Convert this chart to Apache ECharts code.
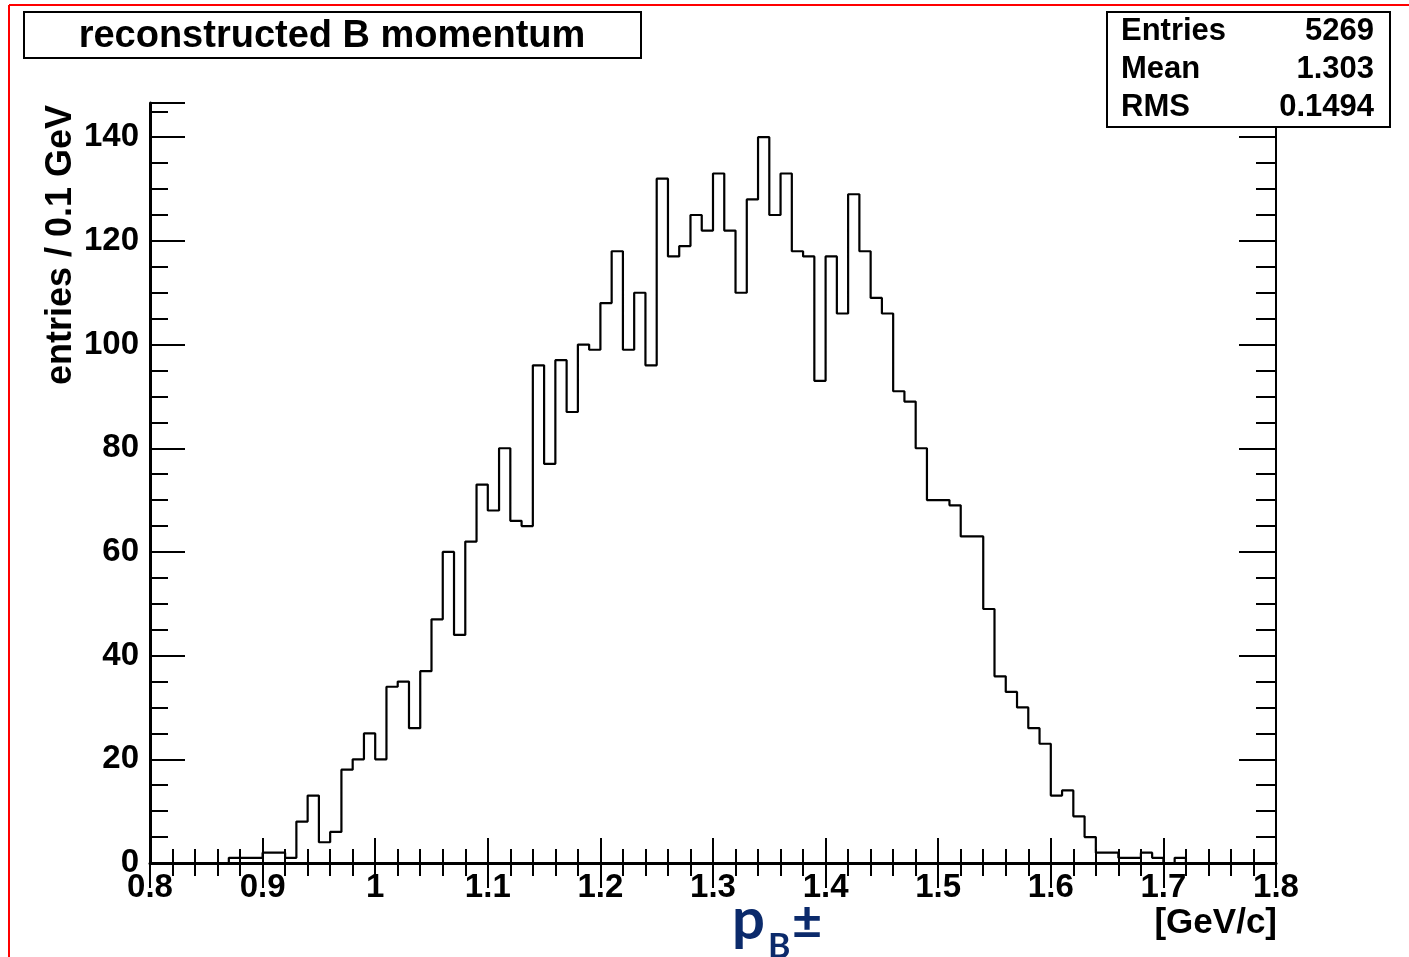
<!DOCTYPE html>
<html>
<head>
<meta charset="utf-8">
<script src="https://cdn.jsdelivr.net/npm/echarts@6/dist/echarts.min.js"></script>
<style>
html,body{margin:0;padding:0;background:#fff;}
#chart{width:1409px;height:957px;}
</style>
</head>
<body>
<div id="chart"></div>
<script>
// ---- data ----
const binStart = 0.80;
const binWidth = 0.01;
const counts = [
  0,0,0,0,0,0,0,1,1,1,          // 0.80 - 0.89
  2,2,1,8,13,4,6,18,20,25,      // 0.90 - 0.99
  20,34,35,26,37,47,60,44,62,73,// 1.00 - 1.09
  68,80,66,65,96,77,97,87,100,99,       // 1.10 - 1.19
  108,118,99,110,96,132,117,119,125,122,// 1.20 - 1.29
  133,122,110,128,140,125,133,118,117,93,// 1.30 - 1.39
  117,106,129,118,109,106,91,89,80,70,  // 1.40 - 1.49
  70,69,63,63,49,36,33,30,26,23,        // 1.50 - 1.59
  13,14,9,5,2,2,1,1,2,1,                // 1.60 - 1.69
  0,1,0,0,0,0,0,0,0,0                   // 1.70 - 1.79
];
const xTickLabels = ['0.8','0.9','1','1.1','1.2','1.3','1.4','1.5','1.6','1.7','1.8'];
const yTickLabels = ['0','20','40','60','80','100','120','140'];
const titleText = 'reconstructed B momentum';
const yTitle = 'entries / 0.1 GeV';
const xUnit = '[GeV/c]';
const statsLabels = ['Entries','Mean','RMS'];
const statsValues = ['5269','1.303','0.1494'];

// ---- build ----
const stepData = counts.map((c, i) => [+(binStart + i * binWidth).toFixed(4), c]);
stepData.push([+(binStart + counts.length * binWidth).toFixed(4), counts[counts.length - 1]]);

const FONT = '"Liberation Sans", Arial, Helvetica, sans-serif';
const NAVY = '#0b2a6b';
const X_MIN = 0.8, X_MAX = 1.8, Y_MAX = 146.6;
const gridBox = { left: 150, right: 133, top: 103, bottom: 94, outerBoundsMode: 'none', containLabel: false };

function xFmt(v) {
  const k = Math.round((v - X_MIN) / 0.1);
  return Math.abs(v - (X_MIN + k * 0.1)) < 1e-6 ? (xTickLabels[k] || '') : '';
}
function yFmt(v) {
  const k = Math.round(v / 20);
  return Math.abs(v - k * 20) < 1e-6 ? (yTickLabels[k] || '') : '';
}
const black = '#000';

const chart = echarts.init(document.getElementById('chart'), null, { renderer: 'canvas' });
const option = {
  animation: false,
  backgroundColor: '#fff',
  grid: [Object.assign({}, gridBox), Object.assign({}, gridBox)],
  xAxis: [
    {
      gridIndex: 0, type: 'value', position: 'bottom', min: X_MIN, max: X_MAX, interval: 0.1,
      axisLine: { show: true, lineStyle: { color: black, width: 3 } },
      axisTick: { show: true, inside: true, length: 25, lineStyle: { color: black, width: 2 } },
      minorTick: { show: true, splitNumber: 5, length: 14, lineStyle: { color: black, width: 2 } },
      splitLine: { show: false }, minorSplitLine: { show: false },
      axisLabel: { show: true, formatter: xFmt, margin: 8, color: black, fontFamily: FONT, fontWeight: 'bold', fontSize: 33 }
    },
    {
      gridIndex: 1, type: 'value', position: 'top', min: X_MIN, max: X_MAX, interval: 0.1,
      axisLine: { show: true, lineStyle: { color: black, width: 2 } },
      axisTick: { show: true, inside: true, length: 25, lineStyle: { color: black, width: 2 } },
      minorTick: { show: true, splitNumber: 5, length: 13, lineStyle: { color: black, width: 2 } },
      splitLine: { show: false }, minorSplitLine: { show: false },
      axisLabel: { show: false }
    }
  ],
  yAxis: [
    {
      gridIndex: 0, type: 'value', position: 'left', min: 0, max: Y_MAX, interval: 20,
      axisLine: { show: true, lineStyle: { color: black, width: 3 } },
      axisTick: { show: true, inside: true, length: 35, lineStyle: { color: black, width: 2 } },
      splitLine: { show: false },
      axisLabel: { show: true, formatter: yFmt, margin: 11, color: black, fontFamily: FONT, fontWeight: 'bold', fontSize: 33 }
    },
    {
      gridIndex: 0, type: 'value', position: 'right', min: 0, max: Y_MAX, interval: 20,
      axisLine: { show: true, lineStyle: { color: black, width: 2 } },
      axisTick: { show: true, inside: true, length: 37, lineStyle: { color: black, width: 2 } },
      splitLine: { show: false }, axisLabel: { show: false }
    },
    {
      gridIndex: 1, type: 'value', position: 'left', min: 0, max: Y_MAX, interval: 5,
      axisLine: { show: false },
      axisTick: { show: true, inside: true, length: 18, lineStyle: { color: black, width: 2 } },
      splitLine: { show: false }, axisLabel: { show: false }
    },
    {
      gridIndex: 1, type: 'value', position: 'right', min: 0, max: Y_MAX, interval: 5,
      axisLine: { show: false },
      axisTick: { show: true, inside: true, length: 20, lineStyle: { color: black, width: 2 } },
      splitLine: { show: false }, axisLabel: { show: false }
    }
  ],
  series: [
    {
      type: 'line', xAxisIndex: 0, yAxisIndex: 0, data: stepData, step: 'end',
      showSymbol: false, symbol: 'none', z: 5,
      lineStyle: { color: black, width: 2.2 }
    }
  ],
  graphic: [
    // red frame lines
    { type: 'line', shape: { x1: 9, y1: 5, x2: 1409, y2: 5 }, style: { stroke: '#ff0000', lineWidth: 2 }, z: 100 },
    { type: 'line', shape: { x1: 9, y1: 5, x2: 9, y2: 957 }, style: { stroke: '#ff0000', lineWidth: 2 }, z: 100 },
    // title box
    { type: 'rect', shape: { x: 24, y: 12, width: 617, height: 46 }, style: { fill: '#fff', stroke: black, lineWidth: 2 }, z: 100 },
    { type: 'text', x: 332, y: 37, style: { text: titleText, fill: black, font: 'bold 38px ' + FONT, textAlign: 'center', textVerticalAlign: 'middle' }, z: 101 },
    // stats box
    { type: 'rect', shape: { x: 1107, y: 12, width: 283, height: 115 }, style: { fill: '#fff', stroke: black, lineWidth: 2 }, z: 100 },
    { type: 'text', x: 1121, y: 31, style: { text: statsLabels[0], fill: black, font: 'bold 31px ' + FONT, textAlign: 'left', textVerticalAlign: 'middle' }, z: 101 },
    { type: 'text', x: 1121, y: 69, style: { text: statsLabels[1], fill: black, font: 'bold 31px ' + FONT, textAlign: 'left', textVerticalAlign: 'middle' }, z: 101 },
    { type: 'text', x: 1121, y: 107, style: { text: statsLabels[2], fill: black, font: 'bold 31px ' + FONT, textAlign: 'left', textVerticalAlign: 'middle' }, z: 101 },
    { type: 'text', x: 1374, y: 31, style: { text: statsValues[0], fill: black, font: 'bold 31px ' + FONT, textAlign: 'right', textVerticalAlign: 'middle' }, z: 101 },
    { type: 'text', x: 1374, y: 69, style: { text: statsValues[1], fill: black, font: 'bold 31px ' + FONT, textAlign: 'right', textVerticalAlign: 'middle' }, z: 101 },
    { type: 'text', x: 1374, y: 107, style: { text: statsValues[2], fill: black, font: 'bold 31px ' + FONT, textAlign: 'right', textVerticalAlign: 'middle' }, z: 101 },
    // y axis title
    { type: 'text', x: 61, y: 245, rotation: Math.PI / 2, style: { text: yTitle, fill: black, font: 'bold 36px ' + FONT, textAlign: 'center', textVerticalAlign: 'middle' }, z: 101 },
    // x unit
    { type: 'text', x: 1277, y: 923, style: { text: xUnit, fill: black, font: 'bold 35px ' + FONT, textAlign: 'right', textVerticalAlign: 'middle' }, z: 101 },
    // p_B±
    { type: 'text', x: 732, y: 920, style: { text: 'p', fill: NAVY, font: 'bold 58px Lato, "Open Sans", sans-serif', textAlign: 'left', textVerticalAlign: 'middle' }, z: 101 },
    { type: 'text', x: 768, y: 947, style: { text: 'B', fill: NAVY, font: 'bold 34px Lato, "Open Sans", sans-serif', textAlign: 'left', textVerticalAlign: 'middle' }, z: 101 },
    { type: 'text', x: 792, y: 922, style: { text: '±', fill: NAVY, font: 'bold 52px Lato, "Open Sans", sans-serif', textAlign: 'left', textVerticalAlign: 'middle' }, z: 101 }
  ]
};
chart.setOption(option);
</script>
</body>
</html>
